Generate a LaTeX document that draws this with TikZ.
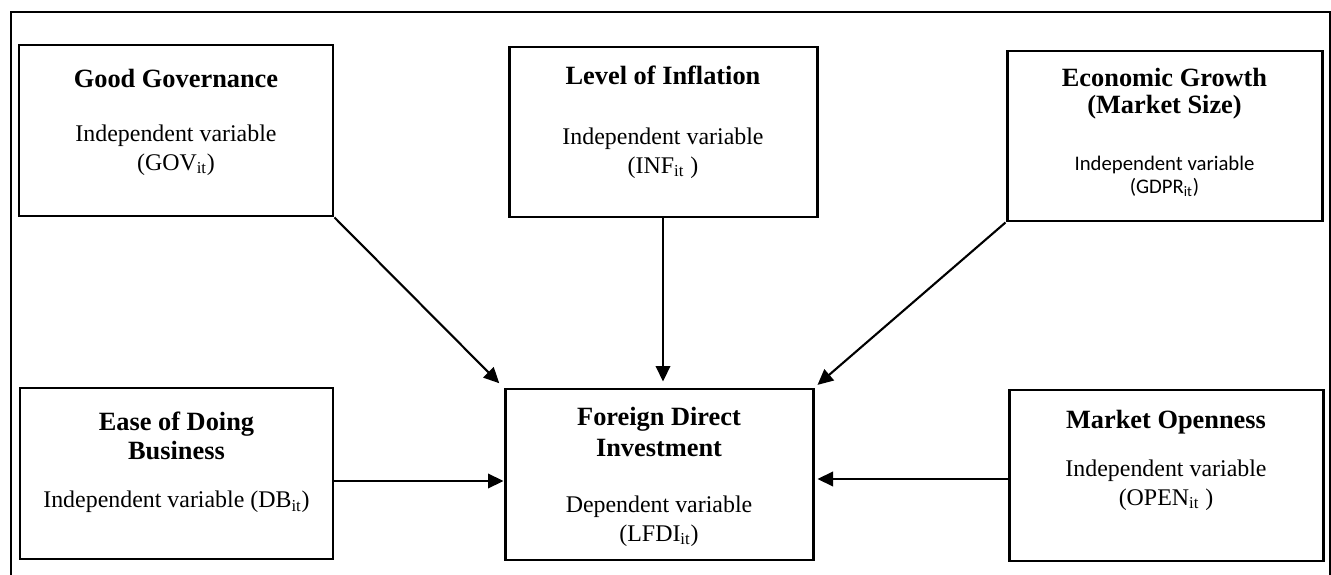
\documentclass[tikz,border=0pt]{standalone}
\usepackage{fontspec}
\setmainfont{Liberation Serif}
\newfontfamily\calib{Carlito}
\usepackage{xcolor}
\usepackage{tikz}
\usetikzlibrary{calc,arrows.meta}
\definecolor{ink}{HTML}{000000}
\tikzset{
  frame/.style={draw=ink, line width=1.1pt},
  varbox/.style={draw=ink, line width=1.7pt, rectangle, inner sep=0pt},
  link/.style={draw=ink, line width=1.2pt, -{Triangle[length=0.31cm,width=0.29cm]}},
  ttl/.style={anchor=north, align=center, inner sep=0pt, font=\fontsize{15}{16.5}\selectfont\bfseries},
  bdy/.style={anchor=north, align=center, inner sep=0pt, font=\fontsize{13.6}{16}\selectfont},
  bdyc/.style={bdy, font=\fontsize{11.8}{13}\selectfont\calib}
}
\begin{document}
\begin{tikzpicture}
  \useasboundingbox (0,0) rectangle (26.62,-11.5);
  % open frame round the figure
  \draw[frame] (0.22,-11.5) -- (0.22,-0.24) -- (26.60,-0.24) -- (26.60,-11.5);

  % variable boxes
  \node[varbox, minimum width=6.28cm, minimum height=3.42cm] (gov)  at (3.52,-2.61) {};
  \node[varbox, minimum width=6.16cm, minimum height=3.40cm] (inf)  at (13.26,-2.64) {};
  \node[varbox, minimum width=6.30cm, minimum height=3.40cm] (gdp)  at (23.29,-2.72) {};
  \node[varbox, minimum width=6.26cm, minimum height=3.42cm] (db)   at (3.53,-9.47) {};
  \node[varbox, minimum width=6.16cm, minimum height=3.42cm] (fdi)  at (13.18,-9.49) {};
  \node[varbox, minimum width=6.28cm, minimum height=3.42cm] (open) at (23.32,-9.51) {};

  % texts
  \node[ttl] (gov-t) at ([yshift=-0.50cm]gov.north) {Good Governance};
  \node[bdy] (gov-b) at ([yshift=-1.63cm]gov.north) {Independent variable\\(GOV\textsubscript{it})};
  \node[ttl] (inf-t) at ([yshift=-0.40cm]inf.north) {Level of Inflation};
  \node[bdy] (inf-b) at ([yshift=-1.65cm]inf.north) {Independent variable\\(INF\textsubscript{it} )};
  \node[ttl] (gdp-t) at ([yshift=-0.36cm]gdp.north) {Economic Growth\\[-0.03cm](Market Size)};
  \node[bdyc] (gdp-b) at ([yshift=-2.12cm]gdp.north) {Independent variable\\(GDPR\textsubscript{it})};
  \node[ttl] (db-t) at ([yshift=-0.50cm]db.north) {Ease of Doing\\Business};
  \node[bdy] (db-b) at ([yshift=-2.09cm]db.north) {Independent variable (DB\textsubscript{it})};
  \node[ttl] (fdi-t) at ([yshift=-0.38cm]fdi.north) {Foreign Direct\\[0.04cm]Investment};
  \node[bdy] (fdi-b) at ([yshift=-2.17cm]fdi.north) {Dependent variable\\(LFDI\textsubscript{it})};
  \node[ttl] (open-t) at ([yshift=-0.42cm]open.north) {Market Openness};
  \node[bdy] (open-b) at ([yshift=-1.43cm]open.north) {Independent variable\\(OPEN\textsubscript{it} )};

  % arrows into FDI
  \draw[link, shorten >=0.12cm] (gov.south east) -- (fdi.north west);
  \draw[link, shorten >=0.12cm] (inf.south) -- (inf.south |- fdi.north);
  \draw[link, shorten >=0.08cm] (gdp.south west) -- (fdi.north east);
  \draw[link] ([yshift=-0.15cm]db.east) -- ([yshift=-0.15cm]db.east -| fdi.west);
  \draw[link, shorten >=0.06cm] ([yshift=-0.07cm]open.west) -- ([yshift=-0.07cm]open.west -| fdi.east);
\end{tikzpicture}
\end{document}
